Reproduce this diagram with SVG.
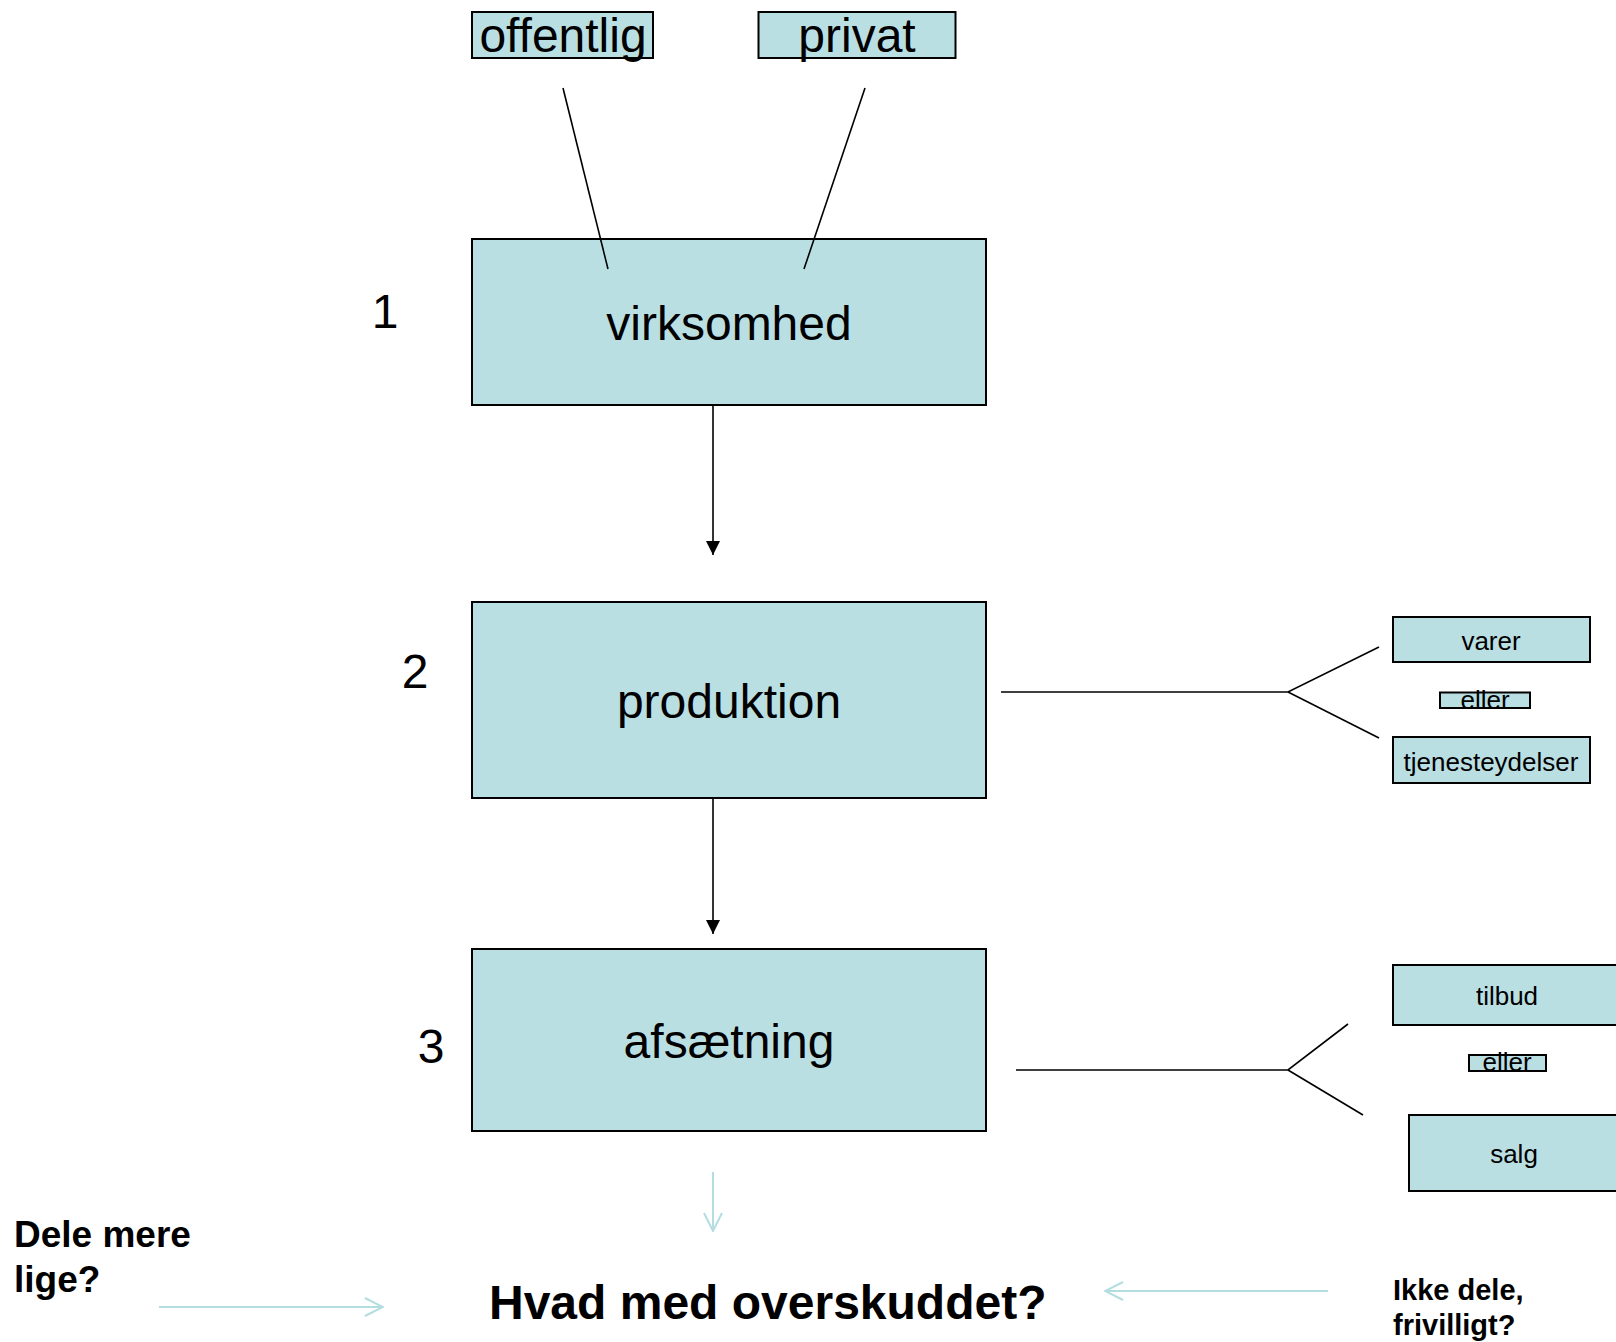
<svg xmlns="http://www.w3.org/2000/svg" width="1616" height="1342" viewBox="0 0 1616 1342">
<defs>
<style>
.box{fill:#BADFE3;stroke:#000;stroke-width:2}
.t{font-family:"Liberation Sans",Arial,sans-serif;fill:#000;text-anchor:middle}
.b{font-family:"Liberation Sans",Arial,sans-serif;fill:#000;font-weight:bold}
.ln{stroke:#000;stroke-width:1.6;fill:none}
.lt{stroke:#B4DDE1;stroke-width:2;fill:none}
</style>
<marker id="ah" viewBox="0 0 10 10" refX="10" refY="5" markerWidth="14" markerHeight="14" markerUnits="userSpaceOnUse" orient="auto">
<path d="M0,0 L10,5 L0,10 z" fill="#000"/>
</marker>
<marker id="oa" viewBox="0 0 20 20" refX="19" refY="10" markerWidth="20" markerHeight="20" markerUnits="userSpaceOnUse" orient="auto">
<path d="M1,1 L19,10 L1,19" fill="none" stroke="#B4DDE1" stroke-width="2"/>
</marker>
</defs>
<rect width="1616" height="1342" fill="#fff"/>

<g id="offentlig"><rect class="box" x="472" y="12" width="181" height="46"/><text class="t" x="563" y="52" font-size="48">offentlig</text></g>
<g id="privat"><rect class="box" x="758.5" y="12" width="197" height="46"/><text class="t" x="857" y="52" font-size="48">privat</text></g>

<g id="virksomhed"><rect class="box" x="472" y="239" width="514" height="166"/><text class="t" x="729" y="340" font-size="48">virksomhed</text></g>
<g id="produktion"><rect class="box" x="472" y="602" width="514" height="196"/><text class="t" x="729" y="718" font-size="48">produktion</text></g>
<g id="afsaetning"><rect class="box" x="472" y="949" width="514" height="182"/><text class="t" x="729" y="1058" font-size="48">afsætning</text></g>

<g id="num1"><text class="t" x="385" y="328" font-size="48">1</text></g>
<g id="num2"><text class="t" x="415" y="688" font-size="48">2</text></g>
<g id="num3"><text class="t" x="431" y="1063" font-size="48">3</text></g>

<g id="varer"><rect class="box" x="1393" y="617" width="197" height="45"/><text class="t" x="1491" y="650" font-size="26">varer</text></g>
<g id="eller1"><rect class="box" x="1440" y="692.5" width="90" height="15.5"/><text class="t" x="1485" y="709" font-size="26">eller</text></g>
<g id="tjenesteydelser"><rect class="box" x="1393" y="737" width="197" height="46"/><text class="t" x="1491" y="771" font-size="26">tjenesteydelser</text></g>

<g id="tilbud"><rect class="box" x="1393" y="965" width="240" height="60"/><text class="t" x="1507" y="1005" font-size="26">tilbud</text></g>
<g id="eller2"><rect class="box" x="1469" y="1055" width="77" height="16"/><text class="t" x="1507" y="1071" font-size="26">eller</text></g>
<g id="salg"><rect class="box" x="1409" y="1115" width="230" height="76"/><text class="t" x="1514" y="1163" font-size="26">salg</text></g>

<g id="dele"><text class="b" x="14" y="1247" font-size="37">Dele mere</text><text class="b" x="14" y="1292" font-size="37">lige?</text></g>
<g id="hvad"><text class="b" x="489" y="1319" font-size="48">Hvad med overskuddet?</text></g>
<g id="ikke"><text class="b" x="1393" y="1300" font-size="29">Ikke dele,</text><text class="b" x="1393" y="1335" font-size="29">frivilligt?</text></g>

<g id="connectors">
<line class="ln" x1="563" y1="88" x2="608" y2="269"/>
<line class="ln" x1="865" y1="88" x2="804" y2="269"/>
<line class="ln" x1="713" y1="405" x2="713" y2="555" marker-end="url(#ah)"/>
<line class="ln" x1="713" y1="798" x2="713" y2="934" marker-end="url(#ah)"/>
<line class="lt" x1="713" y1="1172" x2="713" y2="1231" marker-end="url(#oa)"/>
<polyline class="ln" points="1001,692 1288,692 1379,647"/>
<line class="ln" x1="1288" y1="692" x2="1379" y2="738"/>
<polyline class="ln" points="1016,1070 1288,1070 1348,1024"/>
<line class="ln" x1="1288" y1="1070" x2="1363" y2="1115"/>
<line class="lt" x1="159" y1="1307" x2="383" y2="1307" marker-end="url(#oa)"/>
<line class="lt" x1="1328" y1="1291" x2="1105" y2="1291" marker-end="url(#oa)"/>
</g>
</svg>
